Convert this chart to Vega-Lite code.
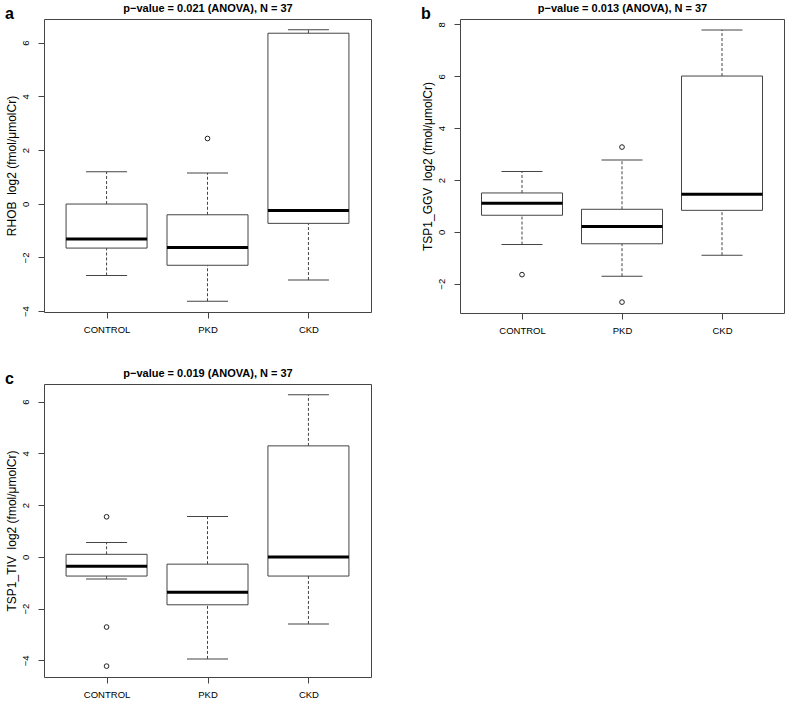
{
  "$schema": "https://vega.github.io/schema/vega-lite/v6.json",
  "padding": {"left": 4, "top": 1, "right": 5, "bottom": 2},
  "background": "white",
  "datasets": {
    "stats": [
      {"panel": "a", "group": "CONTROL", "lo": -2.67, "q1": -1.65, "med": -1.31, "q3": -0.01, "hi": 1.19},
      {"panel": "a", "group": "PKD", "lo": -3.63, "q1": -2.29, "med": -1.63, "q3": -0.41, "hi": 1.15},
      {"panel": "a", "group": "CKD", "lo": -2.84, "q1": -0.73, "med": -0.25, "q3": 6.35, "hi": 6.48},
      {"panel": "b", "group": "CONTROL", "lo": -0.49, "q1": 0.64, "med": 1.10, "q3": 1.50, "hi": 2.33},
      {"panel": "b", "group": "PKD", "lo": -1.71, "q1": -0.46, "med": 0.21, "q3": 0.87, "hi": 2.77},
      {"panel": "b", "group": "CKD", "lo": -0.90, "q1": 0.83, "med": 1.45, "q3": 6.01, "hi": 7.79},
      {"panel": "c", "group": "CONTROL", "lo": -0.85, "q1": -0.74, "med": -0.36, "q3": 0.10, "hi": 0.56},
      {"panel": "c", "group": "PKD", "lo": -3.94, "q1": -1.85, "med": -1.37, "q3": -0.28, "hi": 1.56},
      {"panel": "c", "group": "CKD", "lo": -2.59, "q1": -0.74, "med": 0.00, "q3": 4.29, "hi": 6.26}
    ],
    "outliers": [
      {"panel": "a", "group": "PKD", "value": 2.43},
      {"panel": "b", "group": "CONTROL", "value": -1.65},
      {"panel": "b", "group": "PKD", "value": 3.27},
      {"panel": "b", "group": "PKD", "value": -2.71},
      {"panel": "c", "group": "CONTROL", "value": 1.55},
      {"panel": "c", "group": "CONTROL", "value": -2.71},
      {"panel": "c", "group": "CONTROL", "value": -4.22}
    ]
  },
  "columns": 2,
  "spacing": {"row": 31, "column": 48},
  "concat": [
    {
      "width": 327, "height": 293,
      "title": {"text": "a"},
      "resolve": {"axis": {"x": "independent"}},
      "layer": [
        {"data": {"name": "stats"}, "transform": [{"filter": "datum.panel === 'a'"}],
         "mark": {"type": "rule", "strokeDash": [3, 2], "color": "#444"},
         "encoding": {
           "x": {"field": "group", "type": "nominal", "scale": {"type": "point", "padding": 0.62, "domain": ["CONTROL", "PKD", "CKD"]}, "axis": {"title": null, "orient": "bottom"}},
           "y": {"field": "q3", "type": "quantitative", "scale": {"domain": [-4.03, 6.88], "nice": false, "zero": false}, "axis": {"title": "RHOB\u00a0 log2 (fmol/μmolCr)", "values": [-4, -2, 0, 2, 4, 6]}},
           "y2": {"field": "hi"}
         }},
        {"data": {"name": "stats"}, "transform": [{"filter": "datum.panel === 'a'"}],
         "mark": {"type": "rule", "strokeDash": [3, 2], "color": "#444"},
         "encoding": {
           "x": {"field": "group", "type": "nominal", "axis": null},
           "y": {"field": "lo", "type": "quantitative"},
           "y2": {"field": "q1"}
         }},
        {"data": {"name": "stats"}, "transform": [{"filter": "datum.panel === 'a'"}],
         "mark": {"type": "tick", "size": 41, "thickness": 1, "color": "#444", "opacity": 1},
         "encoding": {
           "x": {"field": "group", "type": "nominal", "axis": null},
           "y": {"field": "hi", "type": "quantitative"}
         }},
        {"data": {"name": "stats"}, "transform": [{"filter": "datum.panel === 'a'"}],
         "mark": {"type": "tick", "size": 41, "thickness": 1, "color": "#444", "opacity": 1},
         "encoding": {
           "x": {"field": "group", "type": "nominal", "axis": null},
           "y": {"field": "lo", "type": "quantitative"}
         }},
        {"data": {"name": "stats"}, "transform": [{"filter": "datum.panel === 'a'"}],
         "mark": {"type": "bar", "size": 81, "fill": "white", "stroke": "#444", "strokeWidth": 1, "opacity": 1},
         "encoding": {
           "x": {"field": "group", "type": "nominal", "axis": {"orient": "top", "title": "p−value = 0.021 (ANOVA), N = 37", "labels": false, "ticks": false, "domain": false, "titleFontWeight": "bold", "titleFontSize": 11, "titlePadding": 6}},
           "y": {"field": "q1", "type": "quantitative"},
           "y2": {"field": "q3"}
         }},
        {"data": {"name": "stats"}, "transform": [{"filter": "datum.panel === 'a'"}],
         "mark": {"type": "tick", "size": 81, "thickness": 3, "color": "black", "opacity": 1},
         "encoding": {
           "x": {"field": "group", "type": "nominal", "axis": null},
           "y": {"field": "med", "type": "quantitative"}
         }},
        {"data": {"name": "outliers"}, "transform": [{"filter": "datum.panel === 'a'"}],
         "mark": {"type": "point", "shape": "circle", "filled": false, "size": 22, "stroke": "#222", "strokeWidth": 1, "opacity": 1},
         "encoding": {
           "x": {"field": "group", "type": "nominal", "axis": null},
           "y": {"field": "value", "type": "quantitative"}
         }}
      ]
    },
    {
      "width": 324, "height": 294,
      "title": {"text": "b"},
      "resolve": {"axis": {"x": "independent"}},
      "layer": [
        {"data": {"name": "stats"}, "transform": [{"filter": "datum.panel === 'b'"}],
         "mark": {"type": "rule", "strokeDash": [3, 2], "color": "#444"},
         "encoding": {
           "x": {"field": "group", "type": "nominal", "scale": {"type": "point", "padding": 0.62, "domain": ["CONTROL", "PKD", "CKD"]}, "axis": {"title": null, "orient": "bottom"}},
           "y": {"field": "q3", "type": "quantitative", "scale": {"domain": [-3.13, 8.21], "nice": false, "zero": false}, "axis": {"title": "TSP1_GGV\u00a0 log2 (fmol/μmolCr)", "values": [-2, 0, 2, 4, 6, 8]}},
           "y2": {"field": "hi"}
         }},
        {"data": {"name": "stats"}, "transform": [{"filter": "datum.panel === 'b'"}],
         "mark": {"type": "rule", "strokeDash": [3, 2], "color": "#444"},
         "encoding": {
           "x": {"field": "group", "type": "nominal", "axis": null},
           "y": {"field": "lo", "type": "quantitative"},
           "y2": {"field": "q1"}
         }},
        {"data": {"name": "stats"}, "transform": [{"filter": "datum.panel === 'b'"}],
         "mark": {"type": "tick", "size": 41, "thickness": 1, "color": "#444", "opacity": 1},
         "encoding": {
           "x": {"field": "group", "type": "nominal", "axis": null},
           "y": {"field": "hi", "type": "quantitative"}
         }},
        {"data": {"name": "stats"}, "transform": [{"filter": "datum.panel === 'b'"}],
         "mark": {"type": "tick", "size": 41, "thickness": 1, "color": "#444", "opacity": 1},
         "encoding": {
           "x": {"field": "group", "type": "nominal", "axis": null},
           "y": {"field": "lo", "type": "quantitative"}
         }},
        {"data": {"name": "stats"}, "transform": [{"filter": "datum.panel === 'b'"}],
         "mark": {"type": "bar", "size": 81, "fill": "white", "stroke": "#444", "strokeWidth": 1, "opacity": 1},
         "encoding": {
           "x": {"field": "group", "type": "nominal", "axis": {"orient": "top", "title": "p−value = 0.013 (ANOVA), N = 37", "labels": false, "ticks": false, "domain": false, "titleFontWeight": "bold", "titleFontSize": 11, "titlePadding": 6}},
           "y": {"field": "q1", "type": "quantitative"},
           "y2": {"field": "q3"}
         }},
        {"data": {"name": "stats"}, "transform": [{"filter": "datum.panel === 'b'"}],
         "mark": {"type": "tick", "size": 81, "thickness": 3, "color": "black", "opacity": 1},
         "encoding": {
           "x": {"field": "group", "type": "nominal", "axis": null},
           "y": {"field": "med", "type": "quantitative"}
         }},
        {"data": {"name": "outliers"}, "transform": [{"filter": "datum.panel === 'b'"}],
         "mark": {"type": "point", "shape": "circle", "filled": false, "size": 22, "stroke": "#222", "strokeWidth": 1, "opacity": 1},
         "encoding": {
           "x": {"field": "group", "type": "nominal", "axis": null},
           "y": {"field": "value", "type": "quantitative"}
         }}
      ]
    },
    {
      "width": 327, "height": 293,
      "title": {"text": "c"},
      "resolve": {"axis": {"x": "independent"}},
      "layer": [
        {"data": {"name": "stats"}, "transform": [{"filter": "datum.panel === 'c'"}],
         "mark": {"type": "rule", "strokeDash": [3, 2], "color": "#444"},
         "encoding": {
           "x": {"field": "group", "type": "nominal", "scale": {"type": "point", "padding": 0.62, "domain": ["CONTROL", "PKD", "CKD"]}, "axis": {"title": null, "orient": "bottom"}},
           "y": {"field": "q3", "type": "quantitative", "scale": {"domain": [-4.64, 6.68], "nice": false, "zero": false}, "axis": {"title": "TSP1_TIV\u00a0 log2 (fmol/μmolCr)", "values": [-4, -2, 0, 2, 4, 6]}},
           "y2": {"field": "hi"}
         }},
        {"data": {"name": "stats"}, "transform": [{"filter": "datum.panel === 'c'"}],
         "mark": {"type": "rule", "strokeDash": [3, 2], "color": "#444"},
         "encoding": {
           "x": {"field": "group", "type": "nominal", "axis": null},
           "y": {"field": "lo", "type": "quantitative"},
           "y2": {"field": "q1"}
         }},
        {"data": {"name": "stats"}, "transform": [{"filter": "datum.panel === 'c'"}],
         "mark": {"type": "tick", "size": 41, "thickness": 1, "color": "#444", "opacity": 1},
         "encoding": {
           "x": {"field": "group", "type": "nominal", "axis": null},
           "y": {"field": "hi", "type": "quantitative"}
         }},
        {"data": {"name": "stats"}, "transform": [{"filter": "datum.panel === 'c'"}],
         "mark": {"type": "tick", "size": 41, "thickness": 1, "color": "#444", "opacity": 1},
         "encoding": {
           "x": {"field": "group", "type": "nominal", "axis": null},
           "y": {"field": "lo", "type": "quantitative"}
         }},
        {"data": {"name": "stats"}, "transform": [{"filter": "datum.panel === 'c'"}],
         "mark": {"type": "bar", "size": 81, "fill": "white", "stroke": "#444", "strokeWidth": 1, "opacity": 1},
         "encoding": {
           "x": {"field": "group", "type": "nominal", "axis": {"orient": "top", "title": "p−value = 0.019 (ANOVA), N = 37", "labels": false, "ticks": false, "domain": false, "titleFontWeight": "bold", "titleFontSize": 11, "titlePadding": 6}},
           "y": {"field": "q1", "type": "quantitative"},
           "y2": {"field": "q3"}
         }},
        {"data": {"name": "stats"}, "transform": [{"filter": "datum.panel === 'c'"}],
         "mark": {"type": "tick", "size": 81, "thickness": 3, "color": "black", "opacity": 1},
         "encoding": {
           "x": {"field": "group", "type": "nominal", "axis": null},
           "y": {"field": "med", "type": "quantitative"}
         }},
        {"data": {"name": "outliers"}, "transform": [{"filter": "datum.panel === 'c'"}],
         "mark": {"type": "point", "shape": "circle", "filled": false, "size": 22, "stroke": "#222", "strokeWidth": 1, "opacity": 1},
         "encoding": {
           "x": {"field": "group", "type": "nominal", "axis": null},
           "y": {"field": "value", "type": "quantitative"}
         }}
      ]
    }
  ],
  "config": {
    "font": "Liberation Sans",
    "view": {"stroke": "#444", "strokeWidth": 1},
    "title": {"anchor": "start", "frame": "bounds", "fontSize": 16, "fontWeight": "bold", "color": "black", "offset": -20, "font": "Liberation Sans"},
    "axis": {"domain": false, "grid": false, "tickColor": "#444", "tickSize": 6, "labelColor": "black", "labelFontSize": 9.5, "labelFont": "Liberation Sans", "titleFont": "Liberation Sans", "titleFontWeight": "normal", "titleColor": "black", "labelOverlap": false, "labelFlush": false},
    "axisY": {"labelAngle": -90, "labelAlign": "center", "labelBaseline": "bottom", "labelPadding": 8, "titleFontSize": 12, "titlePadding": 2},
    "axisX": {"labelAngle": 0, "labelPadding": 6}
  }
}
